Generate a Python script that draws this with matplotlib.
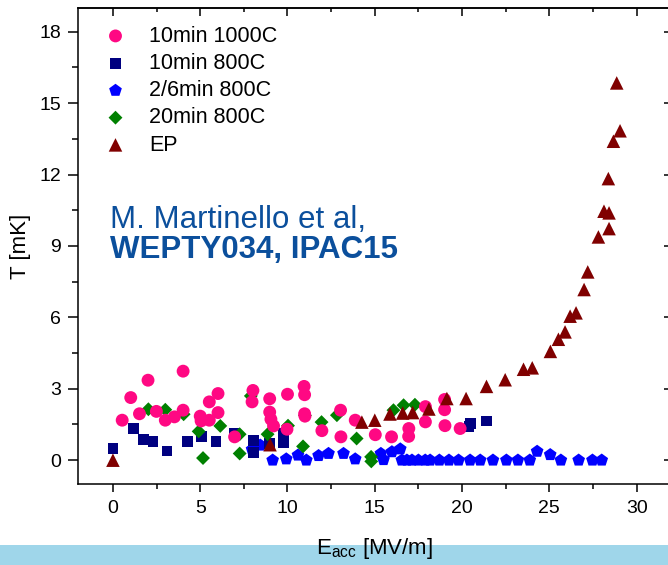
import matplotlib
matplotlib.use("Agg")
import matplotlib.pyplot as plt
from matplotlib.patches import Rectangle
from matplotlib.ticker import MultipleLocator

plt.rcParams['font.family'] = ['Liberation Sans', 'DejaVu Sans']

# ---- data ----
pink_x = [0.53, 1.02, 1.52, 2.01, 2.49, 3.0, 3.52, 4.02, 4.02, 5.0, 5.05, 5.52, 5.52, 6.02, 6.02,
          6.97, 8.02, 7.97, 8.98, 8.98, 9.05, 9.2, 10.0, 9.97, 10.95, 10.98, 10.98, 11.0, 11.97,
          13.04, 13.06, 13.88, 15.03, 15.96, 16.95, 16.94, 17.9, 17.9, 19.0, 19.0, 19.02, 19.89]
pink_y = [1.68, 2.63, 1.95, 3.36, 2.05, 1.68, 1.82, 3.74, 2.1, 1.85, 1.65, 2.45, 1.68, 2.8, 2.0,
          0.98, 2.93, 2.45, 2.58, 2.02, 1.72, 1.44, 2.77, 1.3, 3.1, 2.75, 1.95, 1.85, 1.24,
          2.1, 0.98, 1.68, 1.07, 0.98, 1.33, 1.0, 2.25, 1.61, 2.55, 2.12, 1.45, 1.33]

navy_x = [0.0, 1.19, 1.73, 2.3, 3.1, 4.27, 5.06, 5.9, 6.95, 8.07, 8.07, 8.98, 9.76, 9.76,
          20.4, 20.5, 21.38]
navy_y = [0.49, 1.33, 0.86, 0.77, 0.39, 0.8, 1.0, 0.8, 1.12, 0.84, 0.31, 0.7, 1.12, 0.72,
          1.4, 1.55, 1.65]

blue_x = [7.97, 8.44, 9.15, 9.93, 10.6, 11.08, 11.78, 12.35, 13.21, 13.88, 15.35, 15.5, 15.98,
          16.46, 16.55, 16.84, 17.13, 17.5, 17.89, 18.17, 18.7, 19.25, 19.8, 20.46, 21.04,
          21.77, 22.54, 23.2, 23.88, 24.3, 25.05, 25.66, 26.68, 27.47, 28.0]
blue_y = [0.45, 0.63, 0.0, 0.05, 0.21, 0.0, 0.19, 0.28, 0.28, 0.05, 0.28, 0.02, 0.35,
          0.47, 0.0, 0.0, 0.0, 0.0, 0.0, 0.0, 0.0, 0.0, 0.0, 0.0, 0.0,
          0.0, 0.0, 0.0, 0.0, 0.37, 0.23, 0.0, 0.0, 0.0, 0.0]

green_x = [2.03, 3.0, 4.05, 4.91, 5.16, 6.15, 7.26, 7.26, 7.9, 8.86, 10.03, 10.89, 11.0, 11.95,
           12.83, 13.96, 14.79, 14.8, 16.07, 16.65, 17.3]
green_y = [2.14, 2.12, 1.93, 1.21, 0.09, 1.44, 1.09, 0.28, 2.7, 1.09, 1.45, 0.58, 1.88, 1.6,
           1.89, 0.91, 0.14, -0.05, 2.1, 2.31, 2.33]

ep_x = [0.0, 9.0, 14.26, 15.0, 15.87, 16.6, 17.17, 18.1, 19.13, 20.23, 21.4, 22.47, 23.52,
        24.02, 25.06, 25.52, 25.9, 26.19, 26.53, 26.99, 27.2, 27.81, 28.13, 28.42, 28.42,
        28.38, 28.67, 29.05, 28.86]
ep_y = [0.0, 0.65, 1.6, 1.68, 1.94, 1.98, 2.0, 2.15, 2.59, 2.59, 3.1, 3.38, 3.82,
        3.88, 4.57, 5.08, 5.39, 6.05, 6.19, 7.17, 7.91, 9.38, 10.46, 10.39, 9.73,
        11.83, 13.4, 13.84, 15.85]

labels = ["10min 1000C", "10min 800C", "2/6min 800C", "20min 800C", "EP"]

# ---- figure ----
fig = plt.figure(figsize=(6.68, 5.65), dpi=100)
ax = fig.add_axes([0.1168, 0.1434, 0.8885, 0.8425])

band = Rectangle((0, 0), 1, 20 / 565, transform=fig.transFigure,
                 facecolor='#9fd6ea', edgecolor='none', zorder=-1)
fig.add_artist(band)

kw = dict(edgecolors='none', linewidths=0)
h_blue = ax.scatter(blue_x, blue_y, s=92, marker='p', color='#0000ff', zorder=2, **kw)
h_navy = ax.scatter(navy_x, navy_y, s=60, marker='s', color='#000080', zorder=3, **kw)
h_green = ax.scatter(green_x, green_y, s=50, marker='D', color='#008000', zorder=4, **kw)
h_pink = ax.scatter(pink_x, pink_y, s=86, marker='o', color='#ff0883', zorder=5, **kw)
h_ep = ax.scatter(ep_x, ep_y, s=95, marker='^', color='#800000', zorder=6, **kw)

ax.set_xlim(-2, 32)
ax.set_ylim(-1, 19)
ax.xaxis.set_major_locator(MultipleLocator(5))
ax.xaxis.set_minor_locator(MultipleLocator(2.5))
ax.yaxis.set_major_locator(MultipleLocator(3))
ax.yaxis.set_minor_locator(MultipleLocator(1.5))

for sp in ax.spines.values():
    sp.set_linewidth(1.1)

ax.tick_params(which='both', direction='out', top=False, right=False,
               labelsize=14, width=1.1, colors='black')
ax.tick_params(axis='x', which='major', length=5.5, pad=6)
ax.tick_params(axis='x', which='minor', length=3.5)
ax.tick_params(axis='y', which='major', length=7, pad=5)
ax.tick_params(axis='y', which='minor', length=4)

# mirrored inward ticks on top and right
top = ax.secondary_xaxis('top')
top.xaxis.set_major_locator(MultipleLocator(5))
top.xaxis.set_minor_locator(MultipleLocator(2.5))
top.tick_params(which='both', direction='in', labeltop=False, width=1.1)
top.tick_params(which='major', length=5.5)
top.tick_params(which='minor', length=3)
top.spines['top'].set_linewidth(1.1)
right = ax.secondary_yaxis('right')
right.yaxis.set_major_locator(MultipleLocator(3))
right.yaxis.set_minor_locator(MultipleLocator(1.5))
right.tick_params(which='both', direction='in', labelright=False, width=1.1)
right.tick_params(which='major', length=5.5)
right.tick_params(which='minor', length=3)
right.spines['right'].set_linewidth(1.1)

ax.set_xlabel(r'E$_{\mathregular{acc}}$ [MV/m]', fontsize=16, labelpad=14)
ax.set_ylabel('T [mK]', fontsize=16, labelpad=6)

ax.text(0.054, 0.5378, 'M. Martinello et al,', transform=ax.transAxes,
        fontsize=22.5, color='#0b4f9c', va='baseline', ha='left')
ax.text(0.054, 0.4748, 'WEPTY034, IPAC15', transform=ax.transAxes,
        fontsize=22.5, color='#0b4f9c', va='baseline', ha='left', fontweight='bold')

leg = ax.legend([h_pink, h_navy, h_blue, h_green, h_ep], labels,
                loc='upper left', bbox_to_anchor=(0.045, 0.963), frameon=False,
                fontsize=15.5, scatterpoints=1, handlelength=1.0, handletextpad=1.05,
                labelspacing=0.29, borderpad=0, borderaxespad=0)

fig.savefig('out.png', dpi=100)
